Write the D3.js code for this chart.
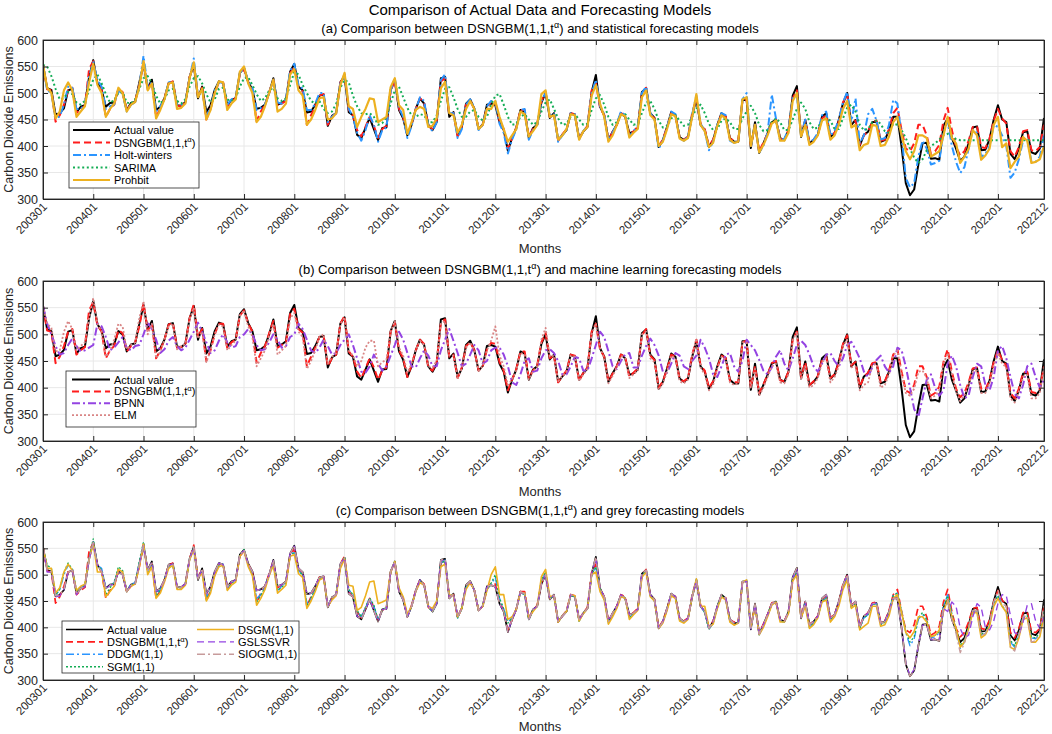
<!DOCTYPE html>
<html>
<head>
<meta charset="utf-8">
<script src="https://cdn.jsdelivr.net/npm/d3@7"></script>
<style>
  body { margin: 0; background: #fff; }
  svg { display: block; font-family: "Liberation Sans", Arial, sans-serif; }
</style>
</head>
<body>
<svg id="chart"></svg>
<script>
// monthly CO2 emissions, 200301 .. 202212 (one year per row)
const actual = [
  553,509,506,459,462,471,505,508,464,474,477,530,
  562,519,506,474,481,482,506,500,468,481,483,520,
  555,509,525,468,474,490,519,521,477,476,483,530,
  553,490,512,464,477,506,522,519,477,487,490,538,
  547,521,506,470,472,478,500,528,478,481,487,540,
  555,512,505,463,465,478,495,497,438,457,462,520,
  532,464,458,421,415,434,453,432,411,434,435,506,
  525,468,452,420,440,470,490,480,440,430,445,528,
  530,455,464,420,436,480,488,470,432,441,478,480,
  477,445,430,391,415,434,468,464,415,434,440,482,
  500,453,462,411,421,430,462,458,415,427,436,502,
  534,474,458,411,427,440,462,455,424,427,434,502,
  509,462,453,398,411,436,464,458,417,411,417,458,
  488,440,430,398,411,440,462,455,415,408,408,487,
  487,396,445,387,405,424,445,449,415,411,430,495,
  513,417,449,405,411,421,455,462,417,424,449,480,
  500,440,449,400,421,427,445,446,408,411,430,455,
  455,398,330,307,318,365,405,406,376,377,374,438,
  452,415,395,372,380,405,435,437,392,393,413,450,
  477,450,445,385,375,395,426,428,388,385,395,453
];

const dsngbm = [
  553,507,505,446,458,478,505,510,462,470,476,545,
  560,517,505,455,470,478,508,502,468,478,485,515,
  558,507,520,455,470,490,518,522,475,476,482,530,
  556,495,510,450,470,500,520,520,474,485,490,535,
  545,520,505,447,465,478,502,525,475,480,485,538,
  548,510,503,440,458,475,495,498,440,455,462,520,
  535,468,458,430,418,436,455,438,415,432,438,505,
  522,470,455,420,442,470,490,482,438,432,448,522,
  528,458,462,418,438,478,485,470,432,440,472,484,
  482,448,432,395,415,435,468,468,418,432,442,485,
  502,455,460,410,422,432,462,460,413,428,438,505,
  520,472,458,412,426,440,462,458,420,428,436,498,
  510,460,452,400,412,435,462,458,416,412,418,462,
  490,442,432,400,412,438,460,456,414,410,410,485,
  488,400,440,390,406,424,446,450,414,412,430,490,
  505,420,448,405,412,422,452,458,418,425,446,482,
  498,442,448,402,420,428,446,448,410,412,432,462,
  472,430,395,390,405,440,440,420,385,390,402,448,
  472,430,398,382,390,410,436,438,398,396,414,448,
  470,452,442,390,380,398,428,430,392,390,398,440
];

const holtWinters = [
  553,505,500,452,456,478,512,510,470,470,478,530,
  558,525,512,470,475,478,505,498,465,478,482,515,
  570,512,520,465,475,488,520,522,478,478,485,528,
  565,495,505,458,470,505,520,520,478,488,492,538,
  548,522,510,468,472,478,500,525,482,480,488,542,
  555,515,508,468,468,480,500,500,445,455,462,518,
  535,470,455,425,410,430,458,440,408,430,435,505,
  528,472,455,415,438,468,492,485,438,428,445,525,
  535,462,462,415,432,478,488,472,430,440,475,485,
  485,442,425,386,412,432,468,470,412,430,440,485,
  500,458,462,408,420,430,462,460,412,428,438,500,
  525,476,460,410,425,442,465,458,418,428,438,500,
  512,462,450,395,410,435,465,460,414,410,418,460,
  495,442,428,392,408,440,462,458,410,406,408,488,
  500,400,440,388,400,425,497,452,410,414,432,490,
  494,422,450,408,412,425,458,465,420,428,450,482,
  502,445,490,405,420,460,470,448,412,415,440,487,
  480,420,340,322,330,380,410,395,365,368,372,425,
  447,400,370,349,360,395,430,425,380,385,400,440,
  436,420,400,340,350,375,410,415,370,370,380,420
];

const sarima = [
  553,550,532,508,488,490,502,498,482,478,485,505,
  525,535,518,498,482,486,500,502,482,480,488,508,
  528,532,518,495,480,488,505,508,485,480,488,512,
  528,532,518,498,482,488,508,510,488,485,490,512,
  528,530,515,498,485,490,505,510,490,485,490,515,
  540,535,515,500,485,480,485,470,462,465,480,510,
  525,520,495,475,462,460,462,455,440,443,455,480,
  505,512,492,472,458,455,460,458,445,445,458,485,
  508,511,492,470,455,455,465,468,455,448,455,478,
  495,498,478,455,440,442,455,460,450,440,445,465,
  482,488,470,452,440,442,455,460,450,440,442,468,
  490,496,478,455,440,445,458,460,450,440,442,462,
  482,485,470,448,435,438,452,458,448,438,440,455,
  470,478,462,442,430,432,448,452,445,432,432,452,
  465,476,462,440,428,430,445,452,445,430,430,450,
  470,482,470,445,432,435,448,452,448,432,432,452,
  472,478,465,440,430,432,445,448,442,428,425,442,
  440,430,415,395,378,368,375,392,400,405,412,420,
  423,418,413,411,411,411,411,411,411,411,411,411,
  411,411,411,411,411,411,411,411,411,411,411,411
];

const prohbit = [
  553,510,500,452,465,505,520,505,455,465,475,520,
  555,515,500,455,470,480,510,500,465,478,483,512,
  560,505,518,452,468,488,518,520,470,472,480,528,
  558,492,508,450,468,500,522,520,468,480,488,540,
  550,518,500,445,455,475,500,525,465,470,480,535,
  545,505,495,440,450,468,490,492,450,452,462,515,
  538,475,470,436,455,470,490,488,445,450,455,511,
  528,477,468,423,445,468,474,470,436,438,453,509,
  521,462,458,425,440,470,485,470,432,440,470,470,
  485,455,432,408,420,432,465,460,418,428,440,498,
  505,455,458,412,420,432,460,458,412,428,436,495,
  515,480,455,408,420,440,460,456,416,425,432,492,
  505,458,450,400,408,432,460,456,414,410,415,455,
  498,440,428,398,406,438,458,452,412,406,408,488,
  492,400,440,388,402,420,442,448,410,410,425,485,
  500,418,440,402,408,420,448,452,412,420,440,470,
  485,435,440,392,402,405,440,438,400,402,418,445,
  455,420,390,375,390,420,420,415,380,385,390,420,
  455,415,405,368,380,395,430,420,374,382,395,440,
  455,398,405,358,370,380,417,410,368,370,375,400
];

const bpnn = [
  553,520,500,478,462,465,480,492,478,468,470,475,
  480,520,515,495,470,475,485,495,475,470,478,480,
  500,522,510,490,465,472,488,495,478,470,475,490,
  505,522,505,485,465,470,488,500,485,475,478,495,
  500,510,500,480,470,472,485,500,490,475,478,495,
  500,520,510,490,470,465,475,490,478,462,465,480,
  490,500,480,455,430,428,440,462,445,432,440,460,
  480,505,490,465,440,438,455,470,460,440,440,470,
  490,510,488,465,440,445,462,480,470,445,450,470,
  475,475,462,440,410,405,425,450,455,430,432,455,
  470,472,465,450,425,425,440,458,455,432,432,455,
  480,505,495,468,440,435,450,462,465,438,438,460,
  478,492,480,460,430,428,445,465,460,440,435,450,
  460,490,475,455,425,420,440,462,465,440,430,450,
  490,480,470,452,432,425,438,458,470,445,432,455,
  480,488,480,462,440,430,445,462,465,450,440,455,
  480,486,472,455,430,420,438,452,460,440,428,440,
  475,470,440,400,360,345,380,415,425,400,385,395,
  445,460,440,405,380,385,420,445,440,405,395,420,
  470,478,455,420,388,380,405,440,445,420,400,415
];

const elm = [
  553,520,512,468,470,505,525,510,470,478,485,530,
  568,520,505,458,470,490,520,515,472,480,485,530,
  562,500,520,455,468,490,515,520,472,478,482,528,
  550,492,505,448,470,500,518,515,470,480,488,535,
  545,515,495,440,455,470,498,520,462,470,478,530,
  540,505,495,435,450,470,495,500,445,458,465,518,
  532,470,460,440,450,475,488,488,440,448,452,505,
  525,475,460,428,445,470,488,480,440,438,450,520,
  525,460,460,418,436,475,485,470,432,440,470,488,
  515,460,440,405,415,432,465,462,415,430,440,490,
  512,458,460,412,422,430,460,458,412,425,435,500,
  520,475,455,408,422,438,460,455,418,425,432,500,
  505,455,448,396,408,430,460,455,412,408,415,460,
  492,438,425,395,405,436,458,452,410,405,408,485,
  485,400,435,385,400,420,440,445,410,408,425,488,
  505,415,440,400,405,418,448,455,410,420,440,478,
  490,438,440,395,405,410,442,445,400,405,425,460,
  470,425,390,385,398,430,432,418,380,385,395,445,
  465,425,392,375,385,405,430,432,390,390,408,442,
  465,445,438,380,372,392,420,424,380,380,390,438
];

const ddgm = [
  553,512,510,462,470,500,518,512,470,475,480,530,
  562,518,512,475,480,485,510,505,470,482,485,522,
  560,508,520,462,472,490,515,520,475,475,482,530,
  550,495,505,458,470,500,518,520,475,485,490,538,
  546,518,500,455,462,478,500,520,470,478,485,535,
  545,508,500,445,455,472,492,495,442,455,462,518,
  530,470,465,430,420,438,455,440,415,432,438,505,
  525,472,455,420,440,468,488,480,438,430,446,522,
  528,460,462,418,436,476,486,470,432,440,472,482,
  495,455,435,410,418,434,466,462,415,432,440,488,
  505,455,460,410,422,430,460,458,412,426,436,500,
  515,472,455,408,424,438,460,455,418,426,434,498,
  508,460,450,398,410,434,462,456,414,410,416,460,
  492,440,428,396,408,438,460,454,412,406,408,486,
  490,398,442,386,402,422,444,448,412,410,428,492,
  508,418,446,400,408,420,450,456,414,422,444,476,
  495,438,445,398,418,424,444,445,405,410,428,462,
  465,430,390,365,378,415,425,412,380,382,390,440,
  462,425,395,360,372,400,430,432,385,388,405,445,
  462,440,432,372,362,385,418,420,380,378,388,430
];

const sgm = [
  553,518,512,462,472,505,522,510,468,476,480,532,
  568,515,510,462,475,486,515,508,470,480,484,525,
  562,505,518,460,470,490,516,520,474,476,482,530,
  552,496,505,452,468,500,518,520,472,484,488,536,
  548,518,500,448,460,476,500,522,470,476,484,536,
  542,506,500,440,456,472,492,496,442,454,462,516,
  534,472,462,432,420,438,456,442,414,432,438,505,
  526,472,455,420,440,468,488,482,438,430,446,522,
  526,460,462,418,436,476,486,470,432,440,472,484,
  500,455,435,408,418,434,466,462,415,432,440,490,
  505,455,460,410,422,430,460,458,412,426,436,500,
  515,472,455,408,424,438,460,455,418,426,434,498,
  508,460,450,398,410,434,462,456,414,410,416,460,
  492,440,428,396,408,438,460,454,412,406,408,486,
  490,398,442,386,402,422,444,448,412,410,428,492,
  505,418,446,400,408,420,450,456,414,422,444,476,
  492,438,445,398,418,424,444,445,405,410,428,460,
  465,430,392,372,382,418,428,415,382,385,392,440,
  460,425,395,365,375,402,430,432,387,390,406,445,
  460,440,432,375,365,388,420,422,382,380,390,432
];

const dsgm = [
  553,512,512,465,475,505,520,508,470,478,482,528,
  560,505,505,458,468,478,510,505,468,478,482,515,
  558,500,515,455,465,486,512,518,472,472,480,528,
  548,495,502,450,465,498,515,518,470,480,486,535,
  545,515,498,442,455,472,498,518,465,472,480,535,
  538,502,495,436,450,468,490,494,440,452,460,512,
  530,480,478,432,438,460,486,488,445,448,452,505,
  525,475,458,425,440,468,485,480,440,436,450,515,
  520,462,460,420,436,472,485,470,432,440,470,500,
  515,462,462,415,420,434,466,465,418,430,440,496,
  510,458,460,410,422,430,462,460,412,426,436,500,
  505,468,452,406,420,436,458,455,415,424,432,495,
  505,458,450,398,408,432,460,455,412,408,415,458,
  492,440,440,400,406,436,458,452,410,404,408,486,
  490,400,440,386,400,420,442,448,410,410,426,488,
  500,418,440,398,405,418,448,452,410,420,440,472,
  490,436,442,395,402,408,440,440,402,405,422,455,
  462,428,390,380,392,420,420,410,382,385,395,430,
  452,420,398,362,372,398,428,428,380,386,402,440,
  455,440,428,362,358,380,415,418,372,372,382,422
];

const gslssvr = [
  553,505,505,458,460,472,505,508,462,474,477,528,
  560,518,506,473,480,482,505,500,468,480,483,520,
  555,508,524,468,474,489,518,520,477,476,483,530,
  552,492,511,464,477,505,522,519,477,486,490,537,
  546,520,506,470,472,478,500,527,478,481,487,540,
  554,512,505,463,465,478,495,497,440,457,462,520,
  532,465,458,421,416,434,453,433,411,433,435,506,
  525,468,453,420,440,470,490,480,440,431,445,527,
  529,456,464,421,436,479,487,470,432,441,477,481,
  477,445,431,392,415,434,467,464,416,434,440,482,
  500,454,461,411,421,430,462,458,415,427,436,502,
  532,474,458,412,427,440,462,455,424,427,434,502,
  508,462,453,399,411,436,464,458,417,411,417,459,
  488,440,430,398,411,440,462,455,415,408,409,487,
  487,397,444,388,405,424,445,449,415,411,430,494,
  512,418,449,405,411,421,455,462,417,424,448,480,
  500,440,449,400,421,427,445,446,408,411,430,455,
  455,400,332,308,320,366,404,405,377,377,376,436,
  430,448,440,398,380,385,420,445,438,400,395,412,
  445,462,460,422,390,385,410,442,445,412,398,420
];

const siogm = [
  553,508,505,460,462,472,505,508,463,474,477,528,
  561,518,506,474,480,482,506,500,468,480,483,520,
  555,508,525,468,474,490,519,520,477,476,483,530,
  553,491,512,464,477,506,522,519,477,487,490,538,
  547,520,506,470,472,478,500,528,478,481,487,540,
  555,512,505,463,465,478,495,497,438,457,462,520,
  532,464,458,421,415,434,453,432,411,434,435,506,
  525,468,452,420,440,470,490,480,440,430,445,528,
  530,455,464,420,436,480,488,470,432,441,478,480,
  477,445,430,391,415,434,468,464,415,434,440,482,
  500,453,462,411,421,430,462,458,415,427,436,502,
  534,474,458,411,427,440,462,455,424,427,434,502,
  509,462,453,398,411,436,464,458,417,411,417,458,
  488,440,430,398,411,440,462,455,415,408,408,487,
  487,396,445,387,405,424,445,449,415,411,430,495,
  513,417,449,405,411,421,455,462,417,424,449,480,
  500,440,449,400,421,427,445,446,408,411,430,455,
  455,398,330,307,318,365,405,406,376,377,374,438,
  450,415,388,352,370,400,432,432,385,388,408,448,
  470,445,440,362,355,385,420,422,372,375,390,445
];

const tickLabels = ['200301','200401','200501','200601','200701','200801','200901',
  '201001','201101','201201','201301','201401','201501','201601','201701','201801',
  '201901','202001','202101','202201','202212'];
const yTicks = [300, 350, 400, 450, 500, 550, 600];

const width = 1052, height = 734,
      left = 43, right = 1044;   // plot area, shared by the three panels

const svg = d3.select('#chart')
  .attr('width', width)
  .attr('height', height);

// each series: label, data and line style
const series = {
  actual:  { label: 'Actual value', data: actual, color: '#000000', dash: null, w: 2 },
  dsngbm:  { label: 'DSNGBM(1,1,t', sup: 'α', post: ')', data: dsngbm, color: '#ff1c1c', dash: '7,4', w: 2 },
  holt:    { label: 'Holt-winters', data: holtWinters, color: '#2b95ff', dash: '8,3,2,3', w: 2 },
  sarima:  { label: 'SARIMA', data: sarima, color: '#14ad55', dash: '2,2.6', w: 2 },
  prohbit: { label: 'Prohbit', data: prohbit, color: '#edb120', dash: null, w: 2.2 },
  bpnn:    { label: 'BPNN', data: bpnn, color: '#9444e2', dash: '8,3,2,3', w: 2 },
  elm:     { label: 'ELM', data: elm, color: '#d98585', dash: '2,2', w: 1.8 },
  ddgm:    { label: 'DDGM(1,1)', data: ddgm, color: '#2b95ff', dash: '8,3,2,3', w: 1.6 },
  sgm:     { label: 'SGM(1,1)', data: sgm, color: '#14ad55', dash: '2,2', w: 1.6 },
  dsgm:    { label: 'DSGM(1,1)', data: dsgm, color: '#edb120', dash: null, w: 1.9 },
  gslssvr: { label: 'GSLSSVR', data: gslssvr, color: '#9444e2', dash: '7,4', w: 1.6 },
  siogm:   { label: 'SIOGM(1,1)', data: siogm, color: '#c79b9b', dash: '8,3,2,3', w: 1.6 }
};

const panels = [
  { top: 40, bottom: 199, lw: 1, monthsY: 252.5,
    title: ['(a) Comparison between DSNGBM(1,1,t', 'α', ') and statistical forecasting models'],
    keys: ['actual', 'dsngbm', 'holt', 'sarima', 'prohbit'],
    legend: { x: 69, y: 122, w: 130, h: 66, rows: 5, firstY: 130, rowH: 12.5, colX: [73], line: 37 } },
  { top: 281, bottom: 441, lw: 1, monthsY: 495.5,
    title: ['(b) Comparison between DSNGBM(1,1,t', 'α', ') and machine learning forecasting models'],
    keys: ['actual', 'dsngbm', 'bpnn', 'elm'],
    legend: { x: 66, y: 371, w: 130, h: 56, rows: 4, firstY: 379.5, rowH: 11.9, colX: [72], line: 38 } },
  { top: 522, bottom: 680, lw: 0.85, monthsY: 730.5,
    title: ['(c) Comparison between DSNGBM(1,1,t', 'α', ') and grey forecasting models'],
    keys: ['actual', 'dsngbm', 'ddgm', 'sgm', 'dsgm', 'gslssvr', 'siogm'],
    legend: { x: 62, y: 621, w: 237, h: 52, rows: 4, firstY: 629.5, rowH: 12.4, colX: [66, 197], line: 37 } }
];

const x = d3.scaleLinear().domain([0, actual.length - 1]).range([left, right]);
const tickIdx = tickLabels.map(s => (+s.slice(0, 4) - 2003) * 12 + (+s.slice(4) - 1));
const ink = '#262626';

svg.append('text')
  .attr('x', 540).attr('y', 15)
  .attr('text-anchor', 'middle')
  .style('font-size', '15px')
  .attr('fill', '#000')
  .text('Comparison of Actual Data and Forecasting Models');

function labelText(sel, s, size) {
  sel.append('tspan').text(s.label);
  if (s.sup) {
    sel.append('tspan').attr('dy', -size * 0.4).style('font-size', (size * 0.7) + 'px').text(s.sup);
    sel.append('tspan').attr('dy', size * 0.4).text(s.post);
  }
}

panels.forEach((p, pi) => {
  const y = d3.scaleLinear().domain([300, 600]).range([p.bottom, p.top]);
  const g = svg.append('g');

  // grid
  g.append('g').selectAll('line')
    .data(yTicks).enter().append('line')
    .attr('x1', left).attr('x2', right)
    .attr('y1', d => y(d)).attr('y2', d => y(d))
    .attr('stroke', '#e8e8e8');
  g.append('g').selectAll('line')
    .data(tickIdx).enter().append('line')
    .attr('x1', d => x(d)).attr('x2', d => x(d))
    .attr('y1', p.top).attr('y2', p.bottom)
    .attr('stroke', '#e8e8e8');

  // lines
  const clipId = 'clip' + pi;
  svg.append('clipPath').attr('id', clipId)
    .append('rect').attr('x', left).attr('y', p.top - 1)
    .attr('width', right - left).attr('height', p.bottom - p.top + 2);

  const line = d3.line().x((d, i) => x(i)).y(d => y(d));
  const lines = g.append('g').attr('clip-path', 'url(#' + clipId + ')');
  p.keys.forEach(k => {
    const s = series[k];
    lines.append('path')
      .attr('d', line(s.data))
      .attr('fill', 'none')
      .attr('stroke', s.color)
      .attr('stroke-width', s.w * p.lw)
      .attr('stroke-dasharray', s.dash)
      .attr('stroke-linejoin', 'round');
  });

  // axes, ticks pointing inward on all four sides
  const xAxis = g.append('g')
    .attr('transform', 'translate(0,' + p.bottom + ')')
    .call(d3.axisBottom(x).tickValues(tickIdx).tickFormat((d, i) => tickLabels[i])
      .tickSize(-5).tickSizeOuter(0));
  xAxis.selectAll('text')
    .attr('x', -3).attr('y', 5).attr('dy', '0.35em')
    .attr('transform', 'rotate(-45)')
    .style('text-anchor', 'end')
    .style('font-size', '11.5px');

  g.append('g')
    .attr('transform', 'translate(0,' + p.top + ')')
    .call(d3.axisTop(x).tickValues(tickIdx).tickFormat('').tickSize(-5).tickSizeOuter(0));

  g.append('g')
    .attr('transform', 'translate(' + left + ',0)')
    .call(d3.axisLeft(y).tickValues(yTicks).tickSize(-5).tickSizeOuter(0).tickPadding(5))
    .selectAll('text').style('font-size', '12.5px');

  g.append('g')
    .attr('transform', 'translate(' + right + ',0)')
    .call(d3.axisRight(y).tickValues(yTicks).tickFormat('').tickSize(-5).tickSizeOuter(0));

  g.selectAll('.domain').attr('stroke', ink);
  g.selectAll('.tick line').attr('stroke', ink);
  g.selectAll('.tick text').attr('fill', ink).style('font-family', '"Liberation Sans", Arial, sans-serif');

  g.append('rect')
    .attr('x', left).attr('y', p.top)
    .attr('width', right - left).attr('height', p.bottom - p.top)
    .attr('fill', 'none').attr('stroke', ink).attr('stroke-width', 0.8);

  // titles
  const t = g.append('text')
    .attr('x', 540).attr('y', p.top - 7.5)
    .attr('text-anchor', 'middle')
    .style('font-size', '13px')
    .attr('fill', '#000');
  t.append('tspan').text(p.title[0]);
  t.append('tspan').attr('dy', -5).style('font-size', '9px').text(p.title[1]);
  t.append('tspan').attr('dy', 5).text(p.title[2]);

  g.append('text')
    .attr('x', 540).attr('y', p.monthsY)
    .attr('text-anchor', 'middle')
    .style('font-size', '13px')
    .attr('fill', ink)
    .text('Months');

  g.append('text')
    .attr('transform', 'translate(12.5,' + ((p.top + p.bottom) / 2) + ') rotate(-90)')
    .attr('text-anchor', 'middle')
    .style('font-size', '12.5px')
    .attr('fill', ink)
    .text('Carbon Dioxide Emissions');

  // legend
  const L = p.legend;
  const lg = g.append('g');
  lg.append('rect')
    .attr('x', L.x).attr('y', L.y).attr('width', L.w).attr('height', L.h)
    .attr('fill', '#fff').attr('stroke', ink).attr('stroke-width', 0.8);
  p.keys.forEach((k, i) => {
    const s = series[k];
    const cx = L.colX[Math.floor(i / L.rows)];
    const cy = L.firstY + (i % L.rows) * L.rowH;
    lg.append('line')
      .attr('x1', cx).attr('x2', cx + L.line)
      .attr('y1', cy).attr('y2', cy)
      .attr('stroke', s.color)
      .attr('stroke-width', s.w * p.lw)
      .attr('stroke-dasharray', s.dash);
    const tx = lg.append('text')
      .attr('x', cx + L.line + 4).attr('y', cy + 4)
      .style('font-size', '11px')
      .attr('fill', '#000');
    labelText(tx, s, 11);
  });
});
</script>
</body>
</html>
